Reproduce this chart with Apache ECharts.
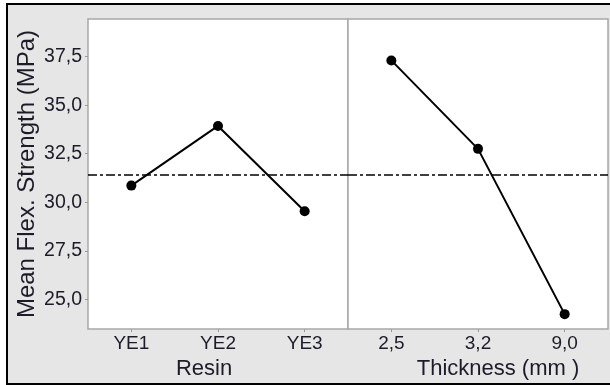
<!DOCTYPE html>
<html>
<head>
<meta charset="utf-8">
<script src="https://cdn.jsdelivr.net/npm/echarts@6/dist/echarts.min.js"></script>
<style>
html,body{margin:0;padding:0;background:#fff;width:610px;height:385px;overflow:hidden;}
#frame{position:absolute;left:6px;top:3px;width:612px;height:378px;border:2px solid #000;background:#e6e6e6;}
#chart{position:absolute;left:0;top:0;width:610px;height:385px;}
</style>
</head>
<body>
<div id="frame"></div>
<div id="chart"></div>
<script>
const resinCats = ['YE1', 'YE2', 'YE3'];
const resinMeans = [30.86, 33.93, 29.54];
const thickCats = ['2,5', '3,2', '9,0'];
const thickMeans = [37.30, 32.75, 24.25];
const grandMean = [31.43];
const yTicks = [25.0, 27.5, 30.0, 32.5, 35.0, 37.5];

const fmt = v => v.toFixed(1).replace('.', ',');
const textColor = '#1c1c28';
const font = 'Liberation Sans, Arial, sans-serif';

const chart = echarts.init(document.getElementById('chart'), null, {renderer: 'canvas'});

function yAxisCfg(idx, showLabels) {
  return {
    type: 'value', gridIndex: idx, min: 23.48, max: 39.43,
    interval: 2.5,
    name: showLabels ? 'Mean Flex. Strength (MPa)' : '',
    nameLocation: 'middle', nameGap: 49,
    nameTextStyle: {fontSize: 24, color: textColor, fontFamily: font},
    axisLine: {show: false},
    axisTick: {show: showLabels, length: 3, lineStyle: {color: '#999'}, customValues: yTicks},
    axisLabel: {show: showLabels, margin: 6, fontSize: 19.5, color: textColor, fontFamily: font,
      formatter: v => fmt(v), customValues: yTicks},
    splitLine: {show: false}
  };
}
function xAxisCfg(idx, cats, name, pad) {
  return {
    type: 'category', gridIndex: idx, data: cats, boundaryGap: true,
    name: name, nameLocation: 'middle', nameGap: 27,
    nameTextStyle: {fontSize: 22, color: textColor, fontFamily: font, padding: pad},
    axisLine: {show: false},
    axisTick: {show: true, alignWithLabel: true, length: 3, lineStyle: {color: '#999'}},
    axisLabel: {margin: 5, fontSize: 19, color: textColor, fontFamily: font},
    splitLine: {show: false}
  };
}
function meanLine() {
  return {
    silent: true, symbol: 'none', label: {show: false},
    lineStyle: {color: '#000', width: 1.5, type: [9, 3, 3, 3]},
    data: [{yAxis: grandMean[0]}]
  };
}
const seriesStyle = {
  type: 'line', symbol: 'circle', symbolSize: 10,
  lineStyle: {color: '#000', width: 2},
  itemStyle: {color: '#000'},
  z: 5
};

chart.setOption({
  animation: false,
  backgroundColor: 'transparent',
  grid: [
    {left: 88, top: 19, width: 260, height: 314, show: true, backgroundColor: '#fff', borderColor: '#a8a8a8', borderWidth: 1.5},
    {left: 348, top: 19, width: 260, height: 314, show: true, backgroundColor: '#fff', borderColor: '#a8a8a8', borderWidth: 1.5}
  ],
  xAxis: [
    xAxisCfg(0, resinCats, 'Resin', [0, 28, 0, 0]),
    xAxisCfg(1, thickCats, 'Thickness (mm )', [0, 0, 0, 40])
  ],
  yAxis: [yAxisCfg(0, true), yAxisCfg(1, false)],
  series: [
    Object.assign({}, seriesStyle, {name: 'Resin', xAxisIndex: 0, yAxisIndex: 0, data: resinMeans, markLine: meanLine()}),
    Object.assign({}, seriesStyle, {name: 'Thickness', xAxisIndex: 1, yAxisIndex: 1, data: thickMeans, markLine: meanLine()})
  ]
});
</script>
</body>
</html>
